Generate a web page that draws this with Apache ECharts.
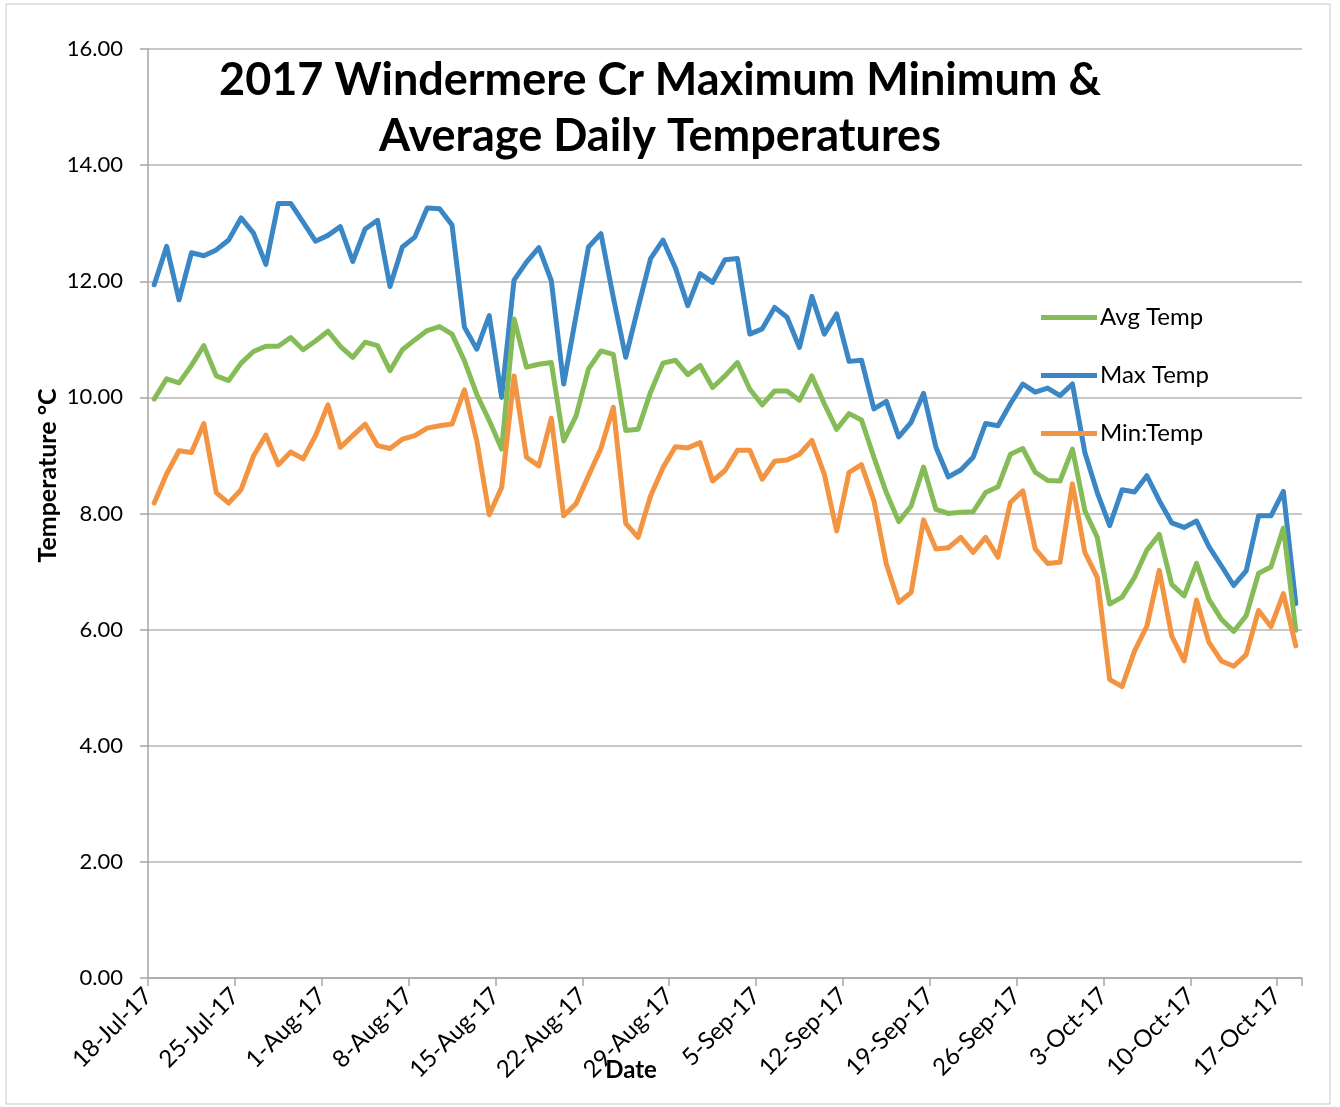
<!DOCTYPE html>
<html>
<head>
<meta charset="utf-8">
<title>2017 Windermere Cr Temperatures</title>
<script src="https://cdn.jsdelivr.net/npm/echarts@6/dist/echarts.min.js"></script>
<style>
html, body { margin: 0; padding: 0; background: #fff; }
#chart { width: 1340px; height: 1107px; }
</style>
</head>
<body>
<div id="chart"></div>
<script>
// one value per day, 18-Jul-17 .. 18-Oct-17
const tickLabels = ['18-Jul-17', '25-Jul-17', '1-Aug-17', '8-Aug-17', '15-Aug-17', '22-Aug-17', '29-Aug-17',
  '5-Sep-17', '12-Sep-17', '19-Sep-17', '26-Sep-17', '3-Oct-17', '10-Oct-17', '17-Oct-17'];

const maxTemp = [
  11.94, 12.60, 11.68, 12.49, 12.44, 12.54, 12.71, 13.09, 12.83, 12.29, 13.34, 13.34, 13.02, 12.69, 12.79, 12.94,
  12.34, 12.90, 13.05, 11.91, 12.59, 12.76, 13.26, 13.25, 12.97, 11.21, 10.83, 11.41, 10.00, 12.02, 12.33, 12.58,
  12.01, 10.23, 11.41, 12.59, 12.82, 11.72, 10.69, 11.55, 12.39, 12.71, 12.23, 11.58, 12.13, 11.98, 12.37, 12.39,
  11.09, 11.18, 11.55, 11.38, 10.86, 11.74, 11.09, 11.44, 10.62, 10.64, 9.80, 9.93, 9.32, 9.57, 10.07,
  9.14, 8.63, 8.75, 8.97, 9.55, 9.51, 9.89, 10.23, 10.09, 10.16, 10.03, 10.23, 9.05, 8.36, 7.79, 8.41,
  8.37, 8.65, 8.22, 7.84, 7.76, 7.87, 7.43, 7.10, 6.76, 7.01, 7.96, 7.96, 8.38, 6.45
];
const avgTemp = [
  9.97, 10.32, 10.25, 10.55, 10.89, 10.37, 10.29, 10.59, 10.79, 10.88, 10.88, 11.03, 10.82, 10.97, 11.14, 10.88,
  10.69, 10.95, 10.89, 10.46, 10.82, 10.99, 11.15, 11.22, 11.09, 10.63, 10.05, 9.60, 9.11, 11.35, 10.52, 10.57,
  10.60, 9.25, 9.68, 10.49, 10.80, 10.74, 9.43, 9.45, 10.09, 10.59, 10.64, 10.39, 10.55, 10.17, 10.37, 10.60,
  10.14, 9.87, 10.11, 10.11, 9.95, 10.37, 9.89, 9.45, 9.72, 9.61, 8.97, 8.36, 7.86, 8.13, 8.80,
  8.07, 8.00, 8.02, 8.03, 8.36, 8.46, 9.02, 9.12, 8.71, 8.57, 8.56, 9.11, 8.05, 7.59, 6.44, 6.56,
  6.90, 7.37, 7.64, 6.78, 6.58, 7.14, 6.52, 6.18, 5.97, 6.24, 6.97, 7.08, 7.75, 5.99
];
const minTemp = [
  8.18, 8.68, 9.08, 9.05, 9.55, 8.36, 8.18, 8.41, 8.99, 9.35, 8.84, 9.06, 8.94, 9.34, 9.87, 9.14,
  9.34, 9.54, 9.17, 9.12, 9.28, 9.34, 9.47, 9.51, 9.54, 10.13, 9.25, 7.98, 8.45, 10.37, 8.97, 8.82,
  9.64, 7.96, 8.17, 8.65, 9.12, 9.83, 7.83, 7.59, 8.30, 8.79, 9.15, 9.13, 9.22, 8.56, 8.74, 9.09,
  9.09, 8.59, 8.90, 8.92, 9.02, 9.26, 8.68, 7.70, 8.71, 8.84, 8.22, 7.13, 6.47, 6.64, 7.89,
  7.39, 7.41, 7.59, 7.33, 7.59, 7.25, 8.19, 8.39, 7.39, 7.14, 7.16, 8.51, 7.33, 6.90, 5.14, 5.02,
  5.63, 6.06, 7.02, 5.89, 5.46, 6.51, 5.78, 5.46, 5.37, 5.57, 6.33, 6.05, 6.62, 5.72
];

const FONT = 'Lato, Carlito, "Liberation Sans", sans-serif';

// x is a day index, point sits in the middle of its day
const toPoints = arr => arr.map((v, i) => [i + 0.5, v]);

const chart = echarts.init(document.getElementById('chart'));

const lineSeries = (name, data, color) => ({
  name: name,
  type: 'line',
  data: toPoints(data),
  showSymbol: false,
  smooth: false,
  color: color,
  lineStyle: { width: 5, color: color, join: 'round', cap: 'round' }
});

chart.setOption({
  animation: false,
  backgroundColor: '#fff',
  textStyle: { fontFamily: FONT },
  graphic: [{
    type: 'rect',
    shape: { x: 6, y: 4, width: 1324, height: 1100 },
    style: { fill: null, stroke: '#c8c8c8', lineWidth: 1 },
    silent: true
  }],
  title: {
    text: '2017 Windermere Cr Maximum Minimum &\nAverage Daily Temperatures',
    left: 655,
    top: 47,
    textAlign: 'center',
    textStyle: { fontFamily: FONT, fontWeight: 'bold', fontSize: 45, lineHeight: 56, color: '#000' }
  },
  legend: {
    orient: 'vertical',
    left: 1036,
    top: 300,
    icon: 'rect',
    itemWidth: 56,
    itemHeight: 5,
    itemGap: 33,
    data: ['Avg Temp', 'Max Temp', 'Min:Temp'],
    textStyle: { fontFamily: FONT, fontSize: 24, lineHeight: 25, color: '#000', padding: [0, 0, 0, -2] }
  },
  grid: { left: 148, right: 38, top: 49, bottom: 129, containLabel: false, outerBoundsMode: 'none' },
  xAxis: {
    type: 'value',
    min: 0,
    max: 93,
    interval: 7,
    name: 'Date',
    nameLocation: 'middle',
    nameGap: 80,
    nameMoveOverlap: false,
    nameTextStyle: { fontFamily: FONT, fontWeight: 'bold', fontSize: 24, color: '#000', padding: [0, 188, 0, 0] },
    axisLine: { show: true, lineStyle: { color: '#a6a6a6', width: 1.5 } },
    axisTick: { show: true, length: 8, lineStyle: { color: '#a6a6a6', width: 1.5 } },
    splitLine: { show: false },
    axisLabel: {
      rotate: 45,
      margin: 14,
      fontFamily: FONT,
      fontSize: 24,
      color: '#000',
      formatter: v => (v % 7 === 0 && tickLabels[v / 7]) ? tickLabels[v / 7] : ''
    }
  },
  yAxis: {
    type: 'value',
    min: 0,
    max: 16,
    interval: 2,
    name: 'Temperature °C',
    nameLocation: 'middle',
    nameGap: 88,
    nameRotate: 90,
    nameMoveOverlap: false,
    nameTextStyle: { fontFamily: FONT, fontWeight: 'bold', fontSize: 25, color: '#000', padding: [0, 0, 0, 76] },
    axisLine: { show: true, lineStyle: { color: '#a6a6a6', width: 1.5 } },
    axisTick: { show: true, length: 8, lineStyle: { color: '#a6a6a6', width: 1.5 } },
    splitLine: { show: true, lineStyle: { color: '#b4b4b4', width: 1.5 } },
    axisLabel: {
      margin: 25,
      fontFamily: FONT,
      fontSize: 22,
      color: '#000',
      formatter: v => v.toFixed(2)
    }
  },
  series: [
    lineSeries('Max Temp', maxTemp, '#3b87c6'),
    lineSeries('Avg Temp', avgTemp, '#86bc58'),
    lineSeries('Min:Temp', minTemp, '#f29441')
  ]
});
</script>
</body>
</html>
